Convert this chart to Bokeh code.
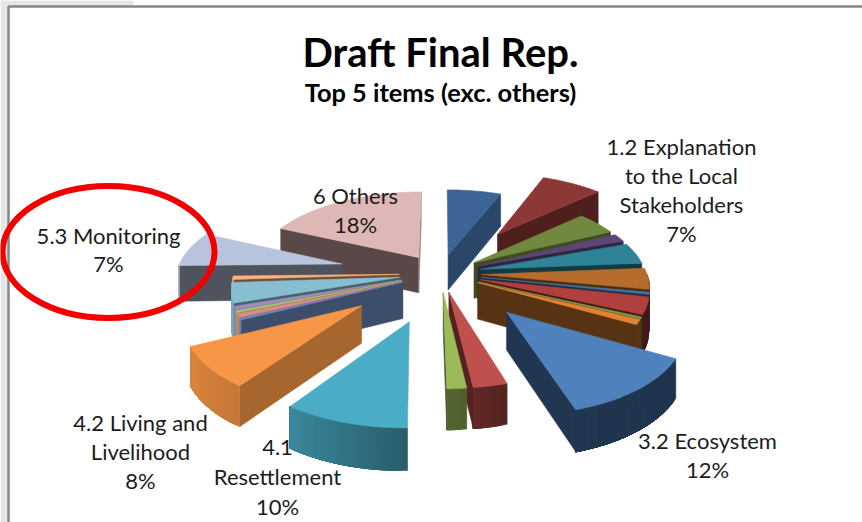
import numpy as np
from bokeh.plotting import figure
from bokeh.embed import file_html
from bokeh.resources import INLINE
from bokeh.core.properties import value

# ---- data (clockwise from 12 o'clock)
items = ["1.1", "1.2 Explanation to the Local Stakeholders", "1.3", "1.4", "2.1", "2.2", "2.3", "2.4", "2.5", "3.1",
         "3.2 Ecosystem", "3.3", "3.4", "4.1 Resettlement", "4.2 Living and Livelihood",
         "4.3", "4.4", "4.5", "5.0", "5.1", "5.2", "5.3 Monitoring", "6 Others"]
shares = [6, 7, 4.6, 1.6, 4.2, 4.2, 0.4, 3.4, 0.3, 1.0,
          12, 2.8, 1.6, 9.8, 7.9,
          0.3, 0.8, 0.4, 0.7, 4.0, 0.7, 7, 18]
explode = [.25, .65, .25, .25, .25, .25, .25, .25, .25, .25,
           .6, .24, .24, .6, .6,
           .25, .25, .25, .25, .25, .25, .62, .25]
colors = ["#3c6496", "#8c3836", "#71893e", "#5c4678", "#2f8396", "#b66c2d", "#4670a0", "#b0403d", "#82a046", "#e18232",
          "#4f81bd", "#c0504d", "#9bbb59", "#4bacc6", "#f79646",
          "#6e8cbe", "#d78c87", "#aac86e", "#a08cbe", "#87bed2", "#fab482", "#b8c4de", "#deb8b7"]

label_lines = ["1.2 Explanation", "to the Local", "Stakeholders", "7%", "6 Others", "18%", "5.3 Monitoring", "7%",
               "4.2 Living and", "Livelihood", "8%", "4.1", "Resettlement", "10%", "3.2 Ecosystem", "12%"]
label_x = [681, 681, 681, 681, 355, 355, 108, 108, 140, 140, 140, 277, 277, 277, 707, 707]
label_y = [146, 175, 204, 233, 195, 224, 235, 263, 422, 451, 480, 447, 476, 506, 440, 469]

title = "Draft Final Rep."
subtitle = "Top 5 items (exc. others)"

# ---- projection of the tilted pie
CX, CY, A, B, H, K, KZ = 440, 273, 165, 78, 36, 0.13, 0.10


def project(X, Y, drop=0.0):
    s = 1 / (1 + K * Y)
    return CX + A * X * s, CY - B * Y * s + drop * H / (1 + KZ * Y)


def shade(hex_color, f):
    r, g, b = (int(hex_color[i:i + 2], 16) for i in (1, 3, 5))
    return "#%02x%02x%02x" % (int(r * f), int(g * f), int(b * f))


wall_n = [90, 112, 126, 137, 150, 180, 212, 250, 270]
wall_f = [.70, .70, .68, .57, .58, .42, .39, .42, .45]
arc_n = [90, 160, 180, 215, 245, 270]
arc_f = [.40, .42, .55, .80, .90, .90]

total = sum(shares)
edges = np.concatenate([[0], np.cumsum(shares)]) / total * 360
slices = []
for i, (start, end) in enumerate(zip(edges[:-1], edges[1:])):
    mid = np.radians((start + end) / 2)
    ex, ey = explode[i] * np.sin(mid), explode[i] * np.cos(mid)
    slices.append((ey + .5 * np.cos(mid), i, start, end, ex, ey))

xs, ys, fills = [], [], []


def add(pts, col):
    xs.append([q[0] for q in pts])
    ys.append([q[1] for q in pts])
    fills.append(col)


for _, i, start, end, ex, ey in sorted(slices, key=lambda t: -t[0]):
    col = colors[i]
    # end and start walls
    for ang, n in ((start, start - 90), (end, end + 90)):
        n = n % 360
        if 90 < n < 270:
            r = np.radians(ang)
            X1, Y1 = ex + np.sin(r), ey + np.cos(r)
            add([project(ex, ey), project(X1, Y1), project(X1, Y1, 1), project(ex, ey, 1)],
                shade(col, float(np.interp(n, wall_n, wall_f))))
    # curved rim: each band runs on to the rim's far end and the next band paints over it, so no seams
    lo, hi = max(start, 90), min(end, 270)
    if hi > lo:
        steps = np.linspace(lo, hi, max(2, int((hi - lo) / 1.5) + 2))
        for a0, a1 in zip(steps[:-1], steps[1:]):
            t = np.radians(np.linspace(a0, hi, max(2, int(hi - a0) + 2)))
            upper = [project(ex + np.sin(v), ey + np.cos(v)) for v in t]
            lower = [project(ex + np.sin(v), ey + np.cos(v), 1) for v in t[::-1]]
            add(upper + lower, shade(col, float(np.interp((a0 + a1) / 2, arc_n, arc_f))))
    # top face
    th = np.radians(np.linspace(start, end, max(3, int(end - start) + 2)))
    add([project(ex, ey)] + [project(ex + np.sin(t), ey + np.cos(t)) for t in th], col)

p = figure(width=862, height=522, x_range=(0, 862), y_range=(522, 0), output_backend="svg",
           toolbar_location=None, min_border=0, outline_line_color=None, background_fill_color="white")
p.xaxis.visible = False
p.yaxis.visible = False
p.grid.visible = False

# window frame behind the chart
p.quad(left=[0, 0], right=[7, 133], top=[0, 0], bottom=[522, 5], fill_color="#e6e6e8", line_color=None)
p.line([8, 8, 862], [522, 6, 6], line_color="#868686", line_width=2.5)

p.patches(xs, ys, fill_color=fills, line_color=fills, line_width=0.6)

p.ellipse([108], [251.5], width=[212], height=[132], fill_color=None, line_color="#f20000", line_width=6)

f = value("Lato")
p.text(label_x, label_y, text=label_lines, text_font=f, text_font_size="22px", text_color="#1c1c1c",
       text_align="center", text_baseline="middle")
p.text([440], [51], text=[title], text_font=f, text_font_size="40px", text_font_style="bold", text_color="#000000",
       text_align="center", text_baseline="middle")
p.text([440], [91], text=[subtitle], text_font=f, text_font_size="25.4px", text_font_style="bold", text_color="#000000",
       text_align="center", text_baseline="middle")

open("out.html", "w").write(file_html(p, INLINE))
